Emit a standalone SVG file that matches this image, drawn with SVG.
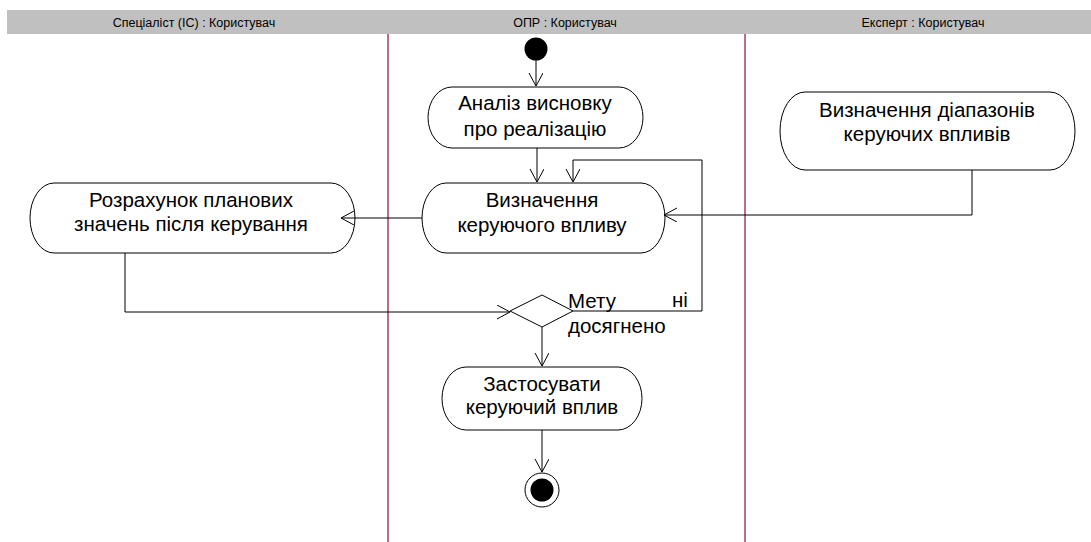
<svg xmlns="http://www.w3.org/2000/svg" width="1091" height="542" viewBox="0 0 1091 542">
<style>
.hdr{font-family:"Liberation Sans",Arial,sans-serif;font-size:12.5px;fill:#000;text-anchor:middle}
.t{font-family:"Liberation Sans",Arial,sans-serif;font-size:20.5px;fill:#000;text-anchor:middle}
.lbl{font-family:"Liberation Sans",Arial,sans-serif;font-size:20.5px;fill:#000}
.node{fill:#fff;stroke:#000;stroke-width:1}
.lane{stroke:#a83a68;stroke-width:1.5}
.c{fill:none;stroke:#000;stroke-width:1}
</style>
<defs>
<marker id="arr" markerUnits="userSpaceOnUse" markerWidth="16" markerHeight="16" refX="13" refY="7" orient="auto">
<path d="M0,0 L13,7 L0,14" fill="none" stroke="#000" stroke-width="1"/>
</marker>
</defs>
<rect width="1091" height="542" fill="#fff"/>
<g id="header">
<rect x="7" y="10" width="1084" height="24" fill="#c0c0c0"/>
<text class="hdr" x="194" y="27">Спеціаліст (ІС) : Користувач</text>
<text class="hdr" x="565" y="27">ОПР : Користувач</text>
<text class="hdr" x="923" y="27">Експерт : Користувач</text>
</g>
<g id="lanes">
<line class="lane" x1="388" y1="34" x2="388" y2="542"/>
<line class="lane" x1="745" y1="34" x2="745" y2="542"/>
</g>
<g id="start">
<circle cx="536" cy="49" r="11.5" fill="#000"/>
</g>
<g id="n1">
<rect class="node" x="428" y="87" width="215" height="61" rx="24" ry="30.5"/>
<text class="t" x="535" y="110">Аналіз висновку</text>
<text class="t" x="535" y="136">про реалізацію</text>
</g>
<g id="n2">
<rect class="node" x="422" y="183" width="243" height="70" rx="24" ry="35"/>
<text class="t" x="542" y="207">Визначення</text>
<text class="t" x="542" y="232">керуючого впливу</text>
</g>
<g id="n3">
<rect class="node" x="30" y="183" width="325" height="70" rx="24" ry="35"/>
<text class="t" x="191" y="207">Розрахунок планових</text>
<text class="t" x="191" y="231">значень після керування</text>
</g>
<g id="n4">
<rect class="node" x="780" y="92" width="295" height="78" rx="25" ry="39"/>
<text class="t" x="927" y="117">Визначення діапазонів</text>
<text class="t" x="927" y="141">керуючих впливів</text>
</g>
<g id="decision">
<polygon class="node" points="510,311 542,295 573,311 542,327"/>
</g>
<g id="n5">
<rect class="node" x="442" y="367" width="200" height="63" rx="24" ry="31.5"/>
<text class="t" x="542" y="391">Застосувати</text>
<text class="t" x="542" y="414">керуючий вплив</text>
</g>
<g id="end">
<circle cx="542" cy="490" r="17" fill="#fff" stroke="#000" stroke-width="1"/>
<circle cx="542" cy="490" r="11.5" fill="#000"/>
</g>
<g id="connectors">
<path class="c" d="M536,60 L536,86" marker-end="url(#arr)"/>
<path class="c" d="M537,148 L537,182" marker-end="url(#arr)"/>
<path class="c" d="M573,311 L702,311 L702,160 L573,160 L573,182" marker-end="url(#arr)"/>
<path class="c" d="M972,170 L972,215 L664,215" marker-end="url(#arr)"/>
<path class="c" d="M422,218 L341,218" marker-end="url(#arr)"/>
<path class="c" d="M125,253 L125,312 L510,312" marker-end="url(#arr)"/>
<path class="c" d="M542,327 L542,366" marker-end="url(#arr)"/>
<path class="c" d="M542,430 L542,472" marker-end="url(#arr)"/>
<text class="lbl" x="568" y="308">Мету</text>
<text class="lbl" x="568" y="333">досягнено</text>
<text class="lbl" x="672" y="307">ні</text>
</g>
</svg>
